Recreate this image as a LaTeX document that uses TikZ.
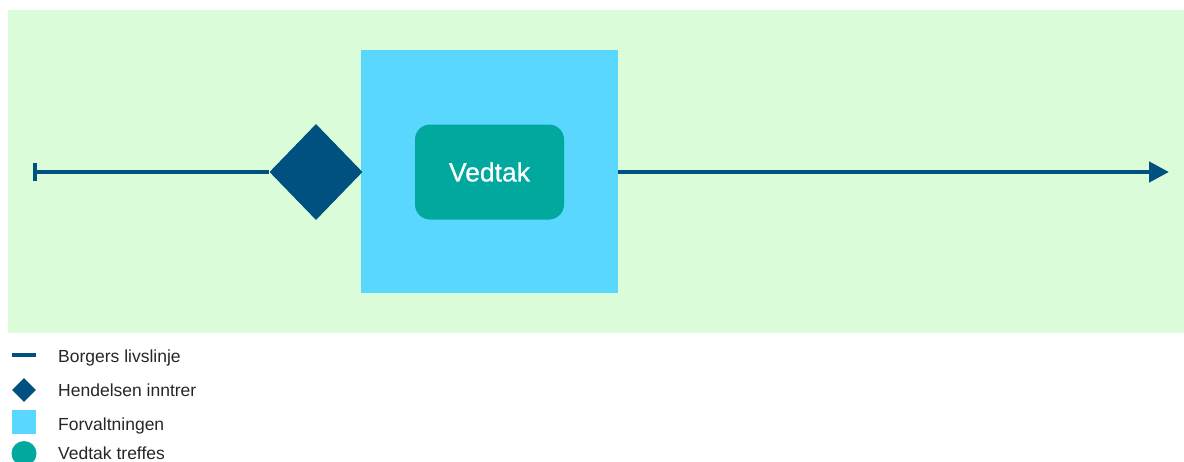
\documentclass[tikz,border=0pt]{standalone}
\usepackage{fontspec}
\setmainfont{Liberation Sans}
\newfontfamily\mediumfont[FakeBold=0.7]{Liberation Sans}
\usetikzlibrary{arrows.meta,shapes.geometric}
\definecolor{bggreen}{RGB}{218,252,216}
\definecolor{adminblue}{RGB}{90,215,255}
\definecolor{lifeblue}{RGB}{0,80,128}
\definecolor{decteal}{RGB}{0,168,157}
\tikzset{
  lifeline/.style={draw=lifeblue,line width=4.5pt},
  legendtext/.style={anchor=base west,font=\fontsize{17.5}{20}\selectfont,text=black!85,inner sep=0pt}
}
\begin{document}
\begin{tikzpicture}[x=1pt,y=-1pt]
\useasboundingbox (0,0) rectangle (1184,461);
% background area
\fill[bggreen] (8,10) rectangle (1184,333);
% administration block
\fill[adminblue] (361,50) rectangle (618,293);
% decision box
\node[fill=decteal,rounded corners=15pt,minimum width=149pt,minimum height=95pt,inner sep=0pt,
      text=white,font=\mediumfont\fontsize{26.5}{30}\selectfont] (vedtak) at (489.5,172) {Vedtak};
% event diamond
\node[diamond,fill=lifeblue,inner sep=0pt,minimum width=93pt,minimum height=96pt] (event) at (316,172) {};
% life line
\coordinate (start) at (35,172);
\coordinate (end) at (1169,172);
\coordinate (adminR) at (618,172);
\draw[lifeline] (start) -- (event.west);
\draw[lifeline,-{Triangle[length=20pt,width=20pt]}] (adminR) -- (end);
\draw[lifeline] ([yshift=-9pt]start) -- ([yshift=9pt]start);
% legend
\coordinate (l1) at (12,355);
\draw[lifeline] (l1) -- ++(24,0);
\node[legendtext] (t1) at (58,362) {Borgers livslinje};
\node[diamond,fill=lifeblue,inner sep=0pt,minimum width=24pt,minimum height=24pt] (l2) at (24,390) {};
\node[legendtext] (t2) at (58,396) {Hendelsen inntrer};
\node[fill=adminblue,inner sep=0pt,minimum width=24pt,minimum height=24pt] (l3) at (24,421.5) {};
\node[legendtext] (t3) at (58,430) {Forvaltningen};
\node[circle,fill=decteal,inner sep=0pt,minimum size=25pt] (l4) at (24,453.5) {};
\node[legendtext] (t4) at (58,459) {Vedtak treffes};
\end{tikzpicture}
\end{document}
